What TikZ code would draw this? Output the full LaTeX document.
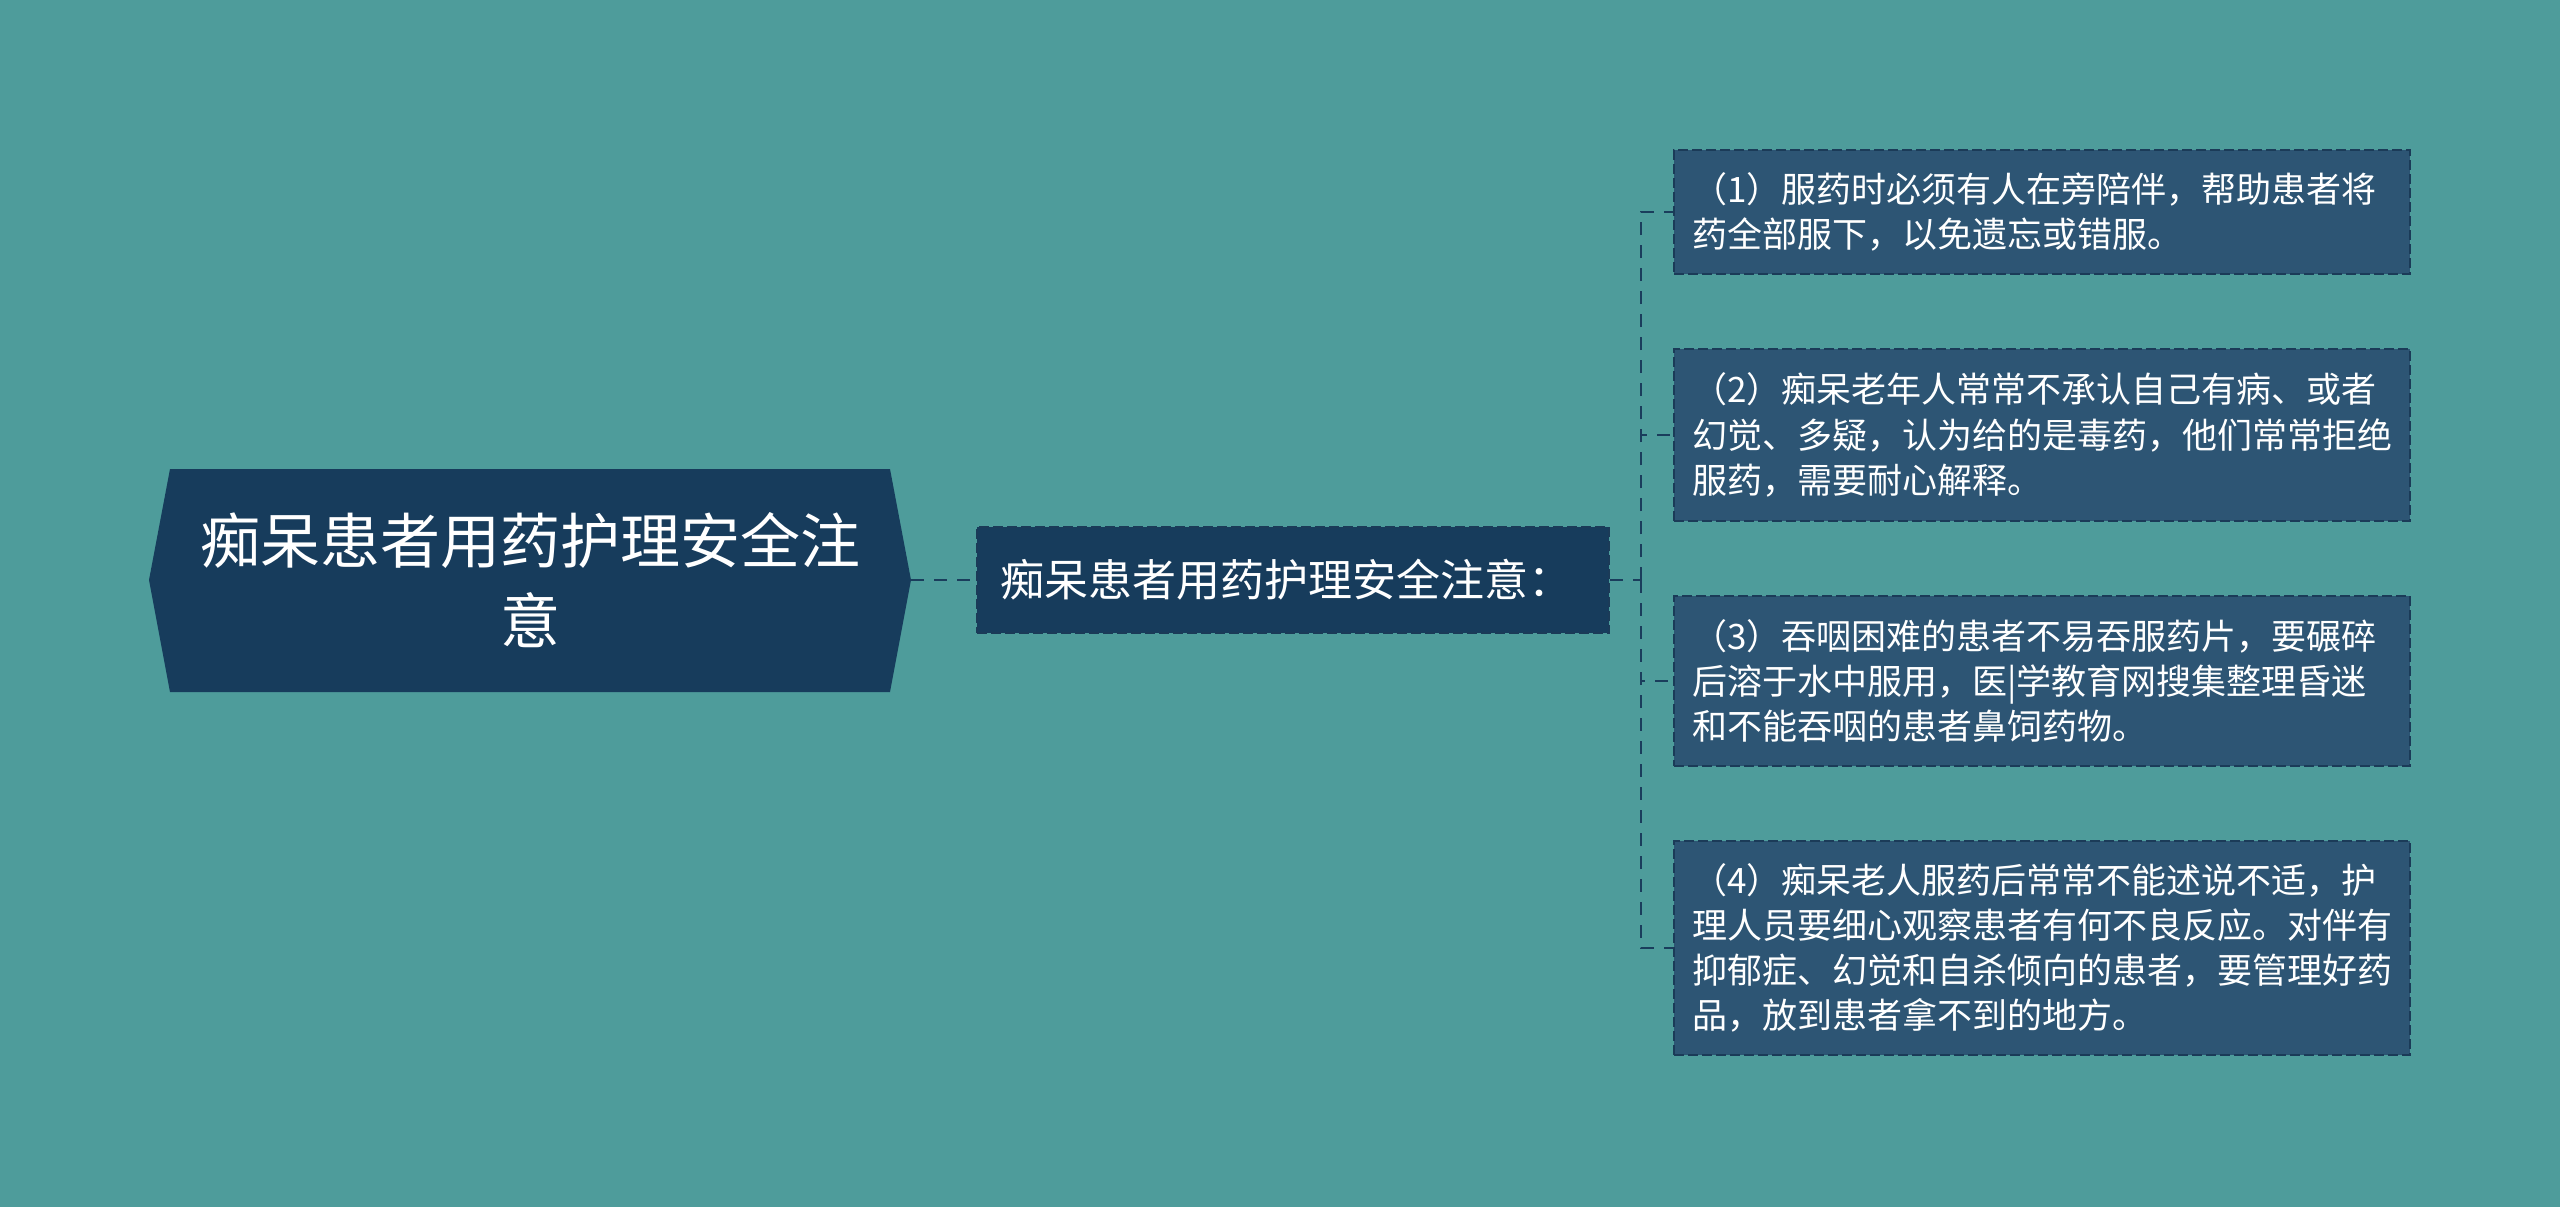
\documentclass[tikz,border=0pt]{standalone}
\usepackage{fontspec}
\newfontfamily\cjk{Noto Sans CJK SC}
\definecolor{bg}{HTML}{4E9C9B}
\definecolor{dark}{HTML}{173C5C}
\definecolor{boxfill}{HTML}{2D5574}
\definecolor{edge}{HTML}{1A3D5C}
\definecolor{boxedge}{HTML}{1B3B58}
\begin{document}
\begin{tikzpicture}[x=0.5pt,y=-0.5pt,
  conn/.style={draw=edge, line width=1.3pt, dash pattern=on 6.5pt off 5pt},
  leaf/.style={anchor=west, fill=boxfill, draw=boxedge, line width=1pt,
    dash pattern=on 5pt off 2pt, text width=350pt, inner xsep=9pt, inner ysep=0pt,
    align=left, text=white, font=\cjk\fontsize{17.5}{22.6}\selectfont},
  midbox/.style={anchor=west, fill=dark, draw=boxedge, line width=1pt,
    dash pattern=on 5pt off 2pt, text width=293pt, inner xsep=11.5pt, inner ysep=0pt,
    minimum height=53pt, align=left, text=white, font=\cjk\fontsize{22}{28}\selectfont},
  rootbox/.style={minimum width=381pt, minimum height=111.5pt, inner sep=0pt,
    align=center, text=white, font=\cjk\fontsize{30}{40}\selectfont}]
\useasboundingbox (0,0) rectangle (2560,1207);
\fill[bg] (0,0) rectangle (2560,1207);
% root hexagon
\fill[dark] (149,580) -- (170,469) -- (890,469) -- (911,580) -- (890,692) -- (170,692) -- cycle;
\node[rootbox] (root) at (530,580) {痴呆患者用药护理安全注\\意};
\node[midbox] (mid) at (976,580) {痴呆患者用药护理安全注意：};
\node[leaf, minimum height=62pt] (b1) at (1673,212) {（1）服药时必须有人在旁陪伴，帮助患者将\\药全部服下，以免遗忘或错服。};
\node[leaf, minimum height=86pt] (b2) at (1673,435) {（2）痴呆老年人常常不承认自己有病、或者\\幻觉、多疑，认为给的是毒药，他们常常拒绝\\服药，需要耐心解释。};
\node[leaf, minimum height=85pt] (b3) at (1673,681) {（3）吞咽困难的患者不易吞服药片，要碾碎\\后溶于水中服用，医|学教育网搜集整理昏迷\\和不能吞咽的患者鼻饲药物。};
\node[leaf, minimum height=107pt] (b4) at (1673,948) {（4）痴呆老人服药后常常不能述说不适，护\\理人员要细心观察患者有何不良反应。对伴有\\抑郁症、幻觉和自杀倾向的患者，要管理好药\\品，放到患者拿不到的地方。};
\coordinate (j) at (1641,580);
\draw[conn] (root.east) -- (mid.west);
\draw[conn] (mid.east) -- (j);
\foreach \b in {b1,b2,b3,b4} \draw[conn] (j) |- (\b.west);
\end{tikzpicture}
\end{document}
